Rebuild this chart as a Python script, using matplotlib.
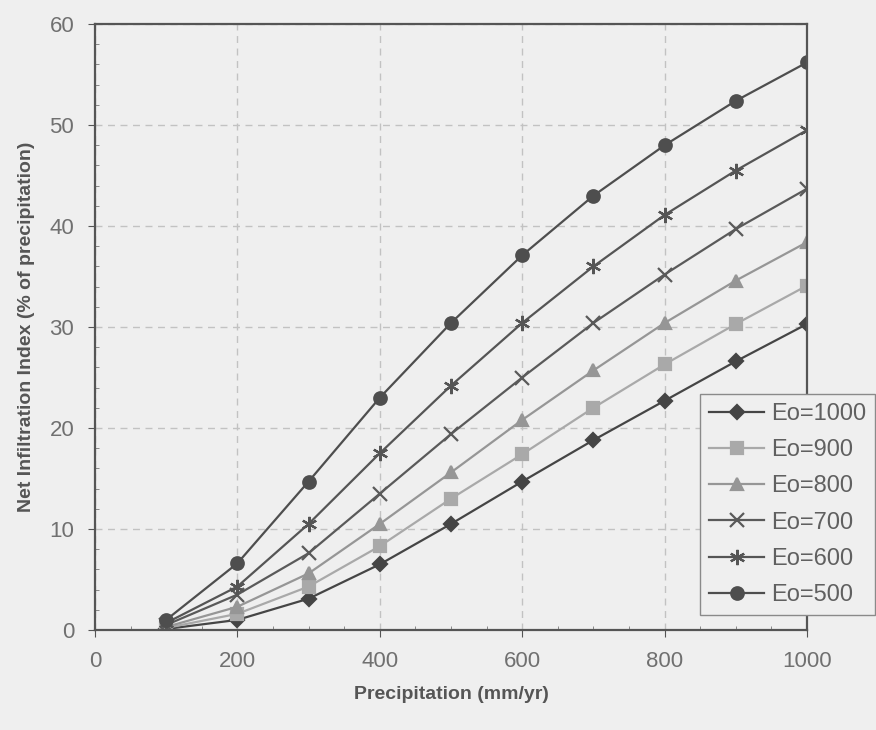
import matplotlib.pyplot as plt
from matplotlib.ticker import MultipleLocator

plt.rcParams['font.family'] = ['Liberation Sans', 'DejaVu Sans']

precip = [100, 200, 300, 400, 500, 600, 700, 800, 900, 1000]

eo_1000 = [0.1, 1.0, 3.1, 6.5, 10.5, 14.7, 18.8, 22.7, 26.6, 30.3]
eo_900 = [0.2, 1.6, 4.3, 8.3, 13.0, 17.4, 22.0, 26.3, 30.3, 34.1]
eo_800 = [0.3, 2.3, 5.6, 10.5, 15.6, 20.8, 25.7, 30.4, 34.6, 38.4]
eo_700 = [0.5, 3.5, 7.6, 13.5, 19.4, 25.0, 30.4, 35.2, 39.7, 43.7]
eo_600 = [0.7, 4.3, 10.5, 17.5, 24.2, 30.4, 36.0, 41.1, 45.5, 49.5]
eo_500 = [1.0, 6.6, 14.7, 23.0, 30.4, 37.1, 43.0, 48.0, 52.4, 56.2]

labels = ['Eo=1000', 'Eo=900', 'Eo=800', 'Eo=700', 'Eo=600', 'Eo=500']
series = [eo_1000, eo_900, eo_800, eo_700, eo_600, eo_500]
colors = ['#454545', '#a9a9a9', '#969696', '#5a5a5a', '#555555', '#4e4e4e']
markers = ['D', 's', '^', 'x', (6, 2, 0), 'o']
msizes = [7, 8, 9, 10, 11, 9]

bg = '#efefef'
fig = plt.figure(figsize=(8.76, 7.3), dpi=100, facecolor=bg)
ax = fig.add_axes([0.1084, 0.137, 0.8128, 0.830], facecolor=bg)

for ys, lab, c, m, ms in zip(series, labels, colors, markers, msizes):
    ax.plot(precip, ys, color=c, marker=m, markersize=ms, linewidth=1.6,
            markeredgewidth=1.6, label=lab)

ax.set_xlim(0, 1000)
ax.set_ylim(0, 60)
ax.xaxis.set_major_locator(MultipleLocator(200))
ax.yaxis.set_major_locator(MultipleLocator(10))
ax.xaxis.set_minor_locator(MultipleLocator(50))
ax.yaxis.set_minor_locator(MultipleLocator(2))

ax.grid(True, which='major', linestyle=(0, (5, 4)), color='#c2c2c2', linewidth=1)
ax.set_axisbelow(True)
for s in ax.spines.values():
    s.set_color('#555555')
    s.set_linewidth(1.6)

ax.tick_params(axis='both', which='major', labelsize=16, colors='#555555',
               labelcolor='#707070', length=5, direction='out', pad=10)
ax.tick_params(axis='both', which='minor', colors='#777777', length=3, direction='in')

ax.set_xlabel('Precipitation (mm/yr)', fontsize=14, fontweight='bold', color='#555555', labelpad=10)
ax.set_ylabel('Net Infiltration Index (% of precipitation)', fontsize=14,
              fontweight='bold', color='#555555', labelpad=10)

leg = fig.legend(loc='lower left', bbox_to_anchor=(0.799, 0.157), fontsize=17,
                 frameon=True, fancybox=False, edgecolor='#8a8a8a', facecolor=bg,
                 framealpha=1, handlelength=2.3, labelspacing=0.6, borderpad=0.4,
                 handletextpad=0.3, borderaxespad=0)
for t in leg.get_texts():
    t.set_color('#606060')

fig.savefig('out.png', dpi=100, facecolor=bg)
